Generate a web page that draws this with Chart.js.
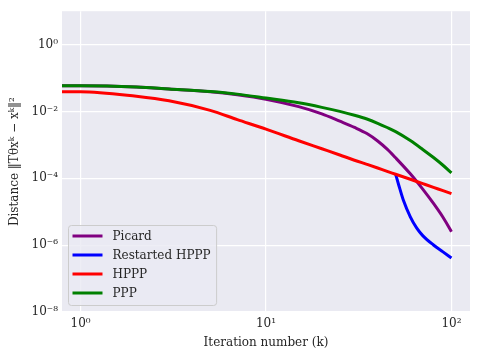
<!DOCTYPE html>
<html>
<head>
<meta charset="utf-8">
<script src="https://cdn.jsdelivr.net/npm/chart.js@4.4.0/dist/chart.umd.min.js"></script>
<style>
  body { margin: 0; background: #fff; }
</style>
</head>
<body>
<canvas id="chart" width="479" height="360"></canvas>
<script>
// iteration number k (k = 0 lands on the left edge, like matplotlib's clipped log)
const iters = [0, 1, 2, 3, 5, 7, 10, 15, 20, 25, 30, 35, 40, 45, 50, 60, 70, 80, 90, 100];
const picard = [0.05893, 0.05893, 0.05393, 0.04707, 0.03890, 0.03150, 0.02319, 0.01392, 0.008470, 0.005117, 0.003333, 0.002186, 0.001312, 0.0007459, 0.0004098, 0.0001360, 0.00004736, 0.00001765, 0.000006808, 0.000002537];
const hppp = [0.03917, 0.03917, 0.02844, 0.02080, 0.01075, 0.005706, 0.002949, 0.001330, 0.0007663, 0.0004992, 0.0003479, 0.0002615, 0.0002032, 0.0001612, 0.0001323, 0.00009355, 0.00006934, 0.00005354, 0.00004276, 0.00003486];
const ppp = [0.05893, 0.05893, 0.05393, 0.04707, 0.03944, 0.03304, 0.02517, 0.01815, 0.01327, 0.01004, 0.007698, 0.005943, 0.004437, 0.003311, 0.002488, 0.001348, 0.0007307, 0.0004182, 0.0002459, 0.0001456];

// restarted HPPP sits under HPPP until the restart at k = 50, so only the part after it
const itersRestart = [50, 52, 55, 60, 65, 70, 80, 90, 100];
const restartHppp = [0.0001323, 0.00006217, 0.00002240, 0.000007044, 0.000003220, 0.000001932, 0.000001012, 0.0000006285, 0.0000004121];

const xTicks = [1, 10, 100];
const yTicks = [1e-8, 1e-6, 1e-4, 1e-2, 1];

const textColor = "#262626";
Chart.defaults.font.family = '"DejaVu Serif", serif';
Chart.defaults.font.size = 12;
Chart.defaults.color = textColor;

function toPoints(xs, ys) {
  return xs.map((x, i) => ({ x: x, y: ys[i] }));
}

function pow10Label(v) {
  const sup = { "-": "\u207B", "0": "\u2070", "1": "\u00B9", "2": "\u00B2", "3": "\u00B3", "4": "\u2074", "5": "\u2075", "6": "\u2076", "7": "\u2077", "8": "\u2078", "9": "\u2079" };
  const e = String(Math.round(Math.log10(v)));
  return "10" + e.split("").map(c => sup[c]).join("");
}

// grey plot background (seaborn darkgrid)
const plotBg = {
  id: "plotBg",
  beforeDraw(chart) {
    const { ctx, chartArea: a } = chart;
    ctx.save();
    ctx.fillStyle = "#EAEAF2";
    ctx.fillRect(a.left, a.top, a.right - a.left, a.bottom - a.top);
    ctx.restore();
  }
};

// legend box in the lower left corner of the plot
const legendBox = {
  id: "legendBox",
  afterDatasetsDraw(chart) {
    const { ctx, chartArea: a } = chart;
    const sets = chart.data.datasets;
    ctx.save();
    ctx.font = '12px "DejaVu Serif", serif';
    const textW = Math.max(...sets.map(d => ctx.measureText(d.label).width));
    const h = 80;
    const x = a.left + 6.5;
    const y = a.bottom - 6.5 - h;
    const w = 44 + textW + 6;
    ctx.beginPath();
    ctx.roundRect(x, y, w, h, 3);
    ctx.fillStyle = "rgba(234,234,242,0.8)";
    ctx.fill();
    ctx.strokeStyle = "#cccccc";
    ctx.lineWidth = 1;
    ctx.stroke();
    ctx.textBaseline = "middle";
    ctx.textAlign = "left";
    sets.forEach((d, i) => {
      const cy = y + 10.5 + i * 19;
      ctx.beginPath();
      ctx.moveTo(x + 4, cy);
      ctx.lineTo(x + 34, cy);
      ctx.strokeStyle = d.borderColor;
      ctx.lineWidth = 3;
      ctx.lineCap = "butt";
      ctx.stroke();
      ctx.fillStyle = textColor;
      ctx.fillText(d.label, x + 44, cy + 1);
    });
    ctx.restore();
  }
};

function lineSet(label, xs, ys, color, order) {
  return {
    label: label,
    data: toPoints(xs, ys),
    borderColor: color,
    backgroundColor: color,
    borderWidth: 3,
    pointRadius: 0,
    cubicInterpolationMode: "monotone",
    fill: false,
    order: order
  };
}

new Chart(document.getElementById("chart"), {
  type: "line",
  data: {
    datasets: [
      lineSet("Picard", iters, picard, "#800080", 3),
      lineSet("Restarted HPPP", itersRestart, restartHppp, "#0000FF", 2),
      lineSet("HPPP", iters, hppp, "#FF0000", 1),
      lineSet("PPP", iters, ppp, "#008000", 0)
    ]
  },
  options: {
    responsive: false,
    animation: false,
    layout: { padding: { top: 8, right: 9, left: 0, bottom: 0 } },
    plugins: { legend: { display: false }, tooltip: { enabled: false } },
    scales: {
      x: {
        type: "logarithmic",
        min: Math.pow(10, -0.1),
        max: Math.pow(10, 2.1),
        afterBuildTicks: s => { s.ticks = xTicks.map(v => ({ value: v })); },
        afterFit: s => { s.height = 48; },
        ticks: { callback: v => pow10Label(v), padding: 5, maxRotation: 0, autoSkip: false },
        grid: { color: "#ffffff", lineWidth: 1.2, drawTicks: false },
        border: { display: false },
        title: { display: true, text: "Iteration number (k)", padding: { top: 0, bottom: 10 } }
      },
      y: {
        type: "logarithmic",
        min: 1e-8,
        max: 10,
        afterBuildTicks: s => { s.ticks = yTicks.map(v => ({ value: v })); },
        afterFit: s => { s.width = 62; },
        ticks: { callback: v => pow10Label(v), padding: 4, autoSkip: false },
        grid: { color: "#ffffff", lineWidth: 1.2, drawTicks: false },
        border: { display: false },
        title: { display: true, text: "Distance \u2016T\u03B8x\u1D4F \u2212 x\u1D4F\u2016\u00B2", padding: { top: 8, bottom: 0 } }
      }
    }
  },
  plugins: [plotBg, legendBox]
});
</script>
</body>
</html>
